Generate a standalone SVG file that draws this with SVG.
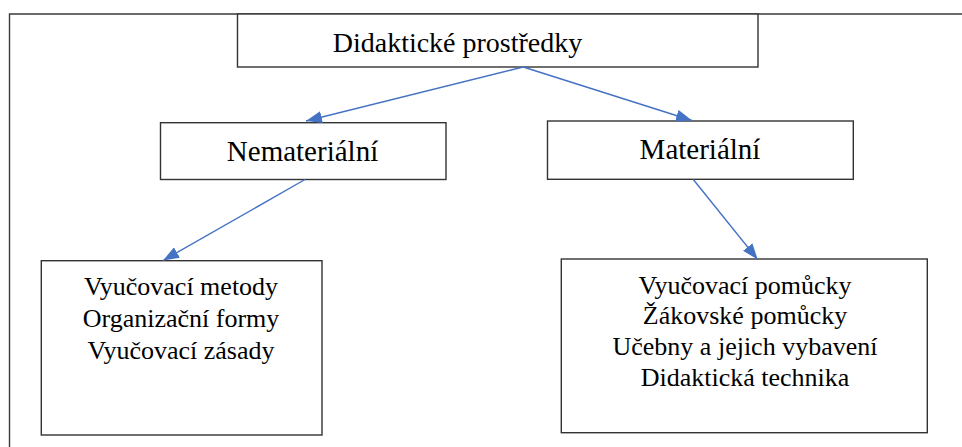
<svg xmlns="http://www.w3.org/2000/svg" width="962" height="447" viewBox="0 0 962 447">
<style>
.box{fill:#fff;stroke:#333;stroke-width:1.4}
.frame{fill:none;stroke:#3a3a3a;stroke-width:1.4}
.t{fill:#000;text-anchor:middle}
.conn{stroke:#4472C4;stroke-width:1.4;fill:none;marker-end:url(#ah)}
</style>
<defs>
<marker id="ah" markerUnits="userSpaceOnUse" markerWidth="17" markerHeight="12" refX="16" refY="6" orient="auto">
<path d="M0,0 L16,6 L0,12 z" fill="#4472C4"/>
</marker>
</defs>
<path class="frame" d="M9.5,447 V14 H962"/>
<g font-family="Liberation Serif, Tinos, Times New Roman, Nimbus Roman, FreeSerif, DejaVu Serif, serif">
<g id="n-root">
<rect class="box" x="237.5" y="14" width="520.5" height="53"/>
<text class="t" x="457.5" y="52" font-size="28">Didaktické prostředky</text>
</g>
<g id="n-nemat">
<rect class="box" x="160.5" y="122.7" width="285.5" height="56.8"/>
<text class="t" x="302.5" y="160.7" font-size="29">Nemateriální</text>
</g>
<g id="n-mat">
<rect class="box" x="547.5" y="121" width="305.8" height="58.3"/>
<text class="t" x="700" y="158.5" font-size="29">Materiální</text>
</g>
<g id="n-left">
<rect class="box" x="41.3" y="260.7" width="280.7" height="174.3"/>
<text class="t" font-size="26"><tspan x="181" y="295">Vyučovací metody</tspan><tspan x="181" y="327">Organizační formy</tspan><tspan x="181" y="358.5">Vyučovací zásady</tspan></text>
</g>
<g id="n-right">
<rect class="box" x="561.3" y="259" width="366" height="173.7"/>
<text class="t" font-size="26"><tspan x="745" y="294">Vyučovací pomůcky</tspan><tspan x="745" y="323.5">Žákovské pomůcky</tspan><tspan x="745" y="355">Učebny a jejich vybavení</tspan><tspan x="745" y="386">Didaktická technika</tspan></text>
</g>
</g>
<g id="connectors">
<line class="conn" x1="523.3" y1="67" x2="306" y2="121"/>
<line class="conn" x1="523.3" y1="67" x2="692" y2="120.5"/>
<line class="conn" x1="305" y1="179.5" x2="163" y2="260.5"/>
<line class="conn" x1="693.3" y1="179.5" x2="757.7" y2="259.5"/>
</g>
</svg>
